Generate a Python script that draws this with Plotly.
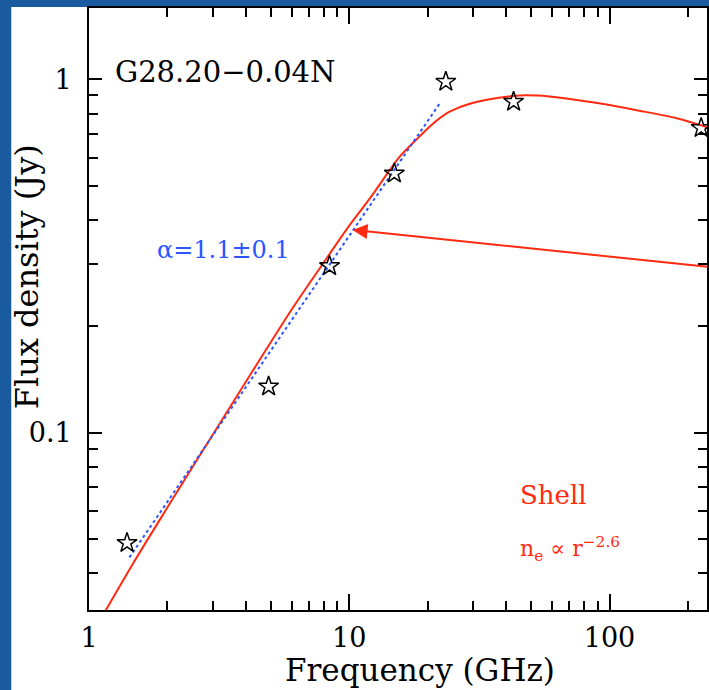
import plotly.graph_objects as go
import math

# Data
obs_freq = [1.4, 4.9, 8.4, 14.9, 23.5, 42.8, 225]
obs_flux = [0.0487, 0.135, 0.296, 0.541, 0.984, 0.864, 0.728]

model_freq = [1.12, 1.5, 2, 3, 4, 6.07, 7.8, 9.86, 12, 14.3, 15.6, 18.6, 20.8, 24.2, 28.1, 32,
              37.6, 45, 53, 67, 91, 130, 181, 240]
model_flux = [0.030, 0.0434, 0.0613, 0.099, 0.139, 0.2255, 0.2955, 0.3796, 0.46, 0.553, 0.603,
              0.688, 0.745, 0.808, 0.846, 0.868, 0.887, 0.900, 0.899, 0.884, 0.855, 0.815, 0.776, 0.73]

fit_freq = [1.43, 22.5]
fit_flux = [0.0443, 0.864]

x_ticks = [1, 10, 100]
x_ticktext = ["1", "10", "100"]
y_ticks = [0.1, 1]
y_ticktext = ["0.1", "1"]
x_minor = [m * d for d in (1, 10, 100) for m in range(2, 10)]
y_minor = [m * d for d in (0.01, 0.1, 1) for m in range(2, 10)]

W, H = 709, 690
ML, MR, MT, MB = 89, 0, 8, 80
PW, PH = W - ML - MR, H - MT - MB

def px_x(p):
    return (p - ML) / PW

def px_y(p):
    return (H - MB - p) / PH

FONT = "DejaVu Serif"
RED = "#ff2a10"
BLUE = "#2b55ff"

fig = go.Figure()
fig.add_trace(go.Scatter(x=model_freq, y=model_flux, mode="lines",
                         line=dict(color=RED, width=2, shape="spline", smoothing=0.8),
                         hoverinfo="skip"))
fig.add_trace(go.Scatter(x=fit_freq, y=fit_flux, mode="lines",
                         line=dict(color=BLUE, width=2, dash="dot"), hoverinfo="skip"))
fig.add_trace(go.Scatter(x=obs_freq, y=obs_flux, mode="markers",
                         marker=dict(symbol="star-open", size=15, color="black",
                                     line=dict(color="black", width=1.5))))

axis_common = dict(type="log", showgrid=False, zeroline=False, showline=True,
                   linecolor="black", linewidth=1.6, ticks="inside", mirror="allticks",
                   tickcolor="black", tickwidth=1.5,
                   tickfont=dict(family=FONT, size=27, color="black"))

fig.update_xaxes(**axis_common, range=[0, (W - ML) / 261.1],
                 tickmode="array", tickvals=x_ticks, ticktext=x_ticktext, ticklen=16,
                 ticklabelstandoff=3,
                 minor=dict(tickmode="array", tickvals=x_minor, ticks="inside",
                            ticklen=9, tickcolor="black", tickwidth=1.5))
fig.update_yaxes(**axis_common, range=[-1.5025, 0.2018],
                 tickmode="array", tickvals=y_ticks, ticktext=y_ticktext, ticklen=13,
                 ticklabelstandoff=10,
                 minor=dict(tickmode="array", tickvals=y_minor, ticks="inside",
                            ticklen=9, tickcolor="black", tickwidth=1.5))

fig.add_shape(type="rect", xref="paper", yref="paper",
              x0=px_x(11), x1=px_x(W + 5), y0=px_y(H + 5), y1=px_y(7),
              fillcolor="white", line=dict(width=0), layer="below")

anns = [
    dict(text="G28.20−0.04N", x=px_x(113), y=px_y(72), xanchor="left", yanchor="middle",
         font=dict(family=FONT, size=29, color="black")),
    dict(text="Frequency (GHz)", x=px_x(421), y=px_y(670), xanchor="center", yanchor="middle",
         font=dict(family=FONT, size=31, color="black")),
    dict(text="Flux density (Jy)", x=px_x(27), y=px_y(277), xanchor="center", yanchor="middle",
         textangle=-90, font=dict(family=FONT, size=32, color="black")),
    dict(text="α=1.1±0.1", x=px_x(155), y=px_y(250), xanchor="left", yanchor="middle",
         font=dict(family=FONT, size=24, color=BLUE)),
    dict(text="Shell", x=px_x(519), y=px_y(495), xanchor="left", yanchor="middle",
         font=dict(family=FONT, size=26, color=RED)),
    dict(text="n<sub>e</sub> ∝ r<sup>−2.6</sup>", x=px_x(519), y=px_y(549), xanchor="left",
         yanchor="middle", font=dict(family=FONT, size=22, color=RED)),
]
for a in anns:
    fig.add_annotation(xref="paper", yref="paper", showarrow=False, **a)

# arrow pointing to the model curve
fig.add_annotation(x=1.0126, y=-0.4264, xref="x", yref="y", text="", showarrow=True,
                   ax=390, ay=37, arrowhead=2, arrowsize=1.5, arrowwidth=2, arrowcolor=RED)

fig.update_layout(width=W, height=H, margin=dict(l=ML, r=MR, t=MT, b=MB),
                  paper_bgcolor="#1a5ba0", plot_bgcolor="white", showlegend=False)

fig.write_html("out.html")
